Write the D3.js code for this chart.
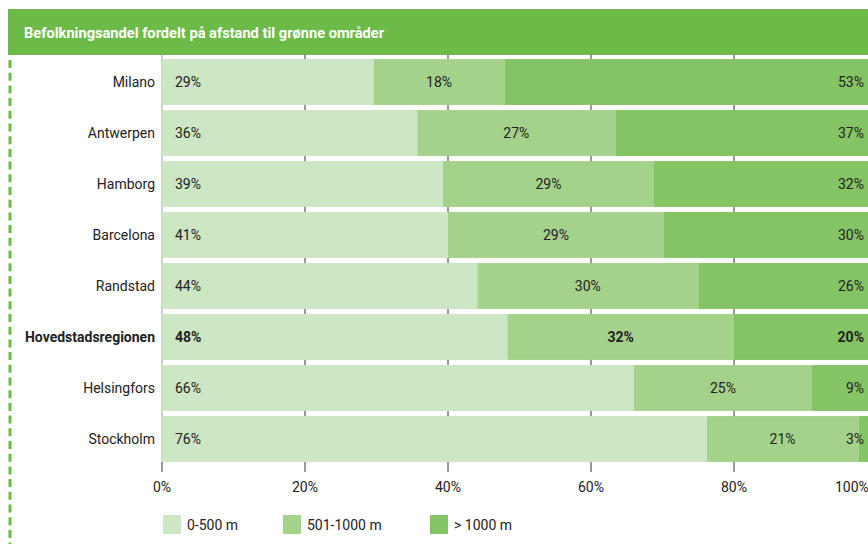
<!DOCTYPE html>
<html>
<head>
<meta charset="utf-8">
<script src="https://cdn.jsdelivr.net/npm/d3@7"></script>
<style>
  html, body { margin: 0; padding: 0; background: #fff; }
  svg { display: block; font-family: Roboto, "Open Sans", sans-serif; }
</style>
</head>
<body>
<svg id="chart" width="868" height="544"></svg>
<script>
// ---- data ----
const title = "Befolkningsandel fordelt på afstand til grønne områder";
const categories = ["Milano", "Antwerpen", "Hamborg", "Barcelona", "Randstad", "Hovedstadsregionen", "Helsingfors", "Stockholm"];
const highlight = "Hovedstadsregionen";
const seriesNames = ["0-500 m", "501-1000 m", "> 1000 m"];
const near = [29.6, 35.7, 39.3, 40.0, 44.1, 48.3, 66.0, 76.2];
const mid  = [18.3, 27.7, 29.5, 30.2, 30.9, 31.7, 24.9, 21.2];
const far  = [52.1, 36.6, 31.2, 29.8, 25.0, 20.0, 9.1, 2.6];
const nearLabels = ["29%", "36%", "39%", "41%", "44%", "48%", "66%", "76%"];
const midLabels  = ["18%", "27%", "29%", "29%", "30%", "32%", "25%", "21%"];
const farLabels  = ["53%", "37%", "32%", "30%", "26%", "20%", "9%", "3%"];
const tickValues = [0, 20, 40, 60, 80, 100];
const tickLabels = ["0%", "20%", "40%", "60%", "80%", "100%"];
const colors = ["#cde6c3", "#a4d28a", "#85c464"];
const accent = "#6cba48";

const svg = d3.select("#chart");

// title band
svg.append("rect").attr("x", 8).attr("y", 9).attr("width", 860).attr("height", 46).attr("fill", accent);
svg.append("text").attr("x", 24).attr("y", 37.5).attr("fill", "#fff")
  .attr("font-weight", "bold").attr("font-size", 14)
  .attr("textLength", 360).attr("lengthAdjust", "spacingAndGlyphs")
  .text(title);

// dashed left rule
svg.append("line").attr("x1", 10).attr("x2", 10).attr("y1", 60).attr("y2", 544)
  .attr("stroke", accent).attr("stroke-width", 3).attr("stroke-dasharray", "8,4.7");

// scales
const x = d3.scaleLinear().domain([0, 100]).range([162, 877]);
const y = d3.scaleBand().domain(categories).range([56.5, 464.5]).paddingInner(0.1).paddingOuter(0.05);

const rows = categories.map((c, i) => ({cat: c, vals: [near[i], mid[i], far[i]], labels: [nearLabels[i], midLabels[i], farLabels[i]]}));

const clip = svg.append("clipPath").attr("id", "clip").append("rect").attr("x", 0).attr("y", 0).attr("width", 868).attr("height", 544);
const g = svg.append("g").attr("clip-path", "url(#clip)");

// gridlines
const gridTop = 55, gridBottom = y(categories[categories.length - 1]) + y.bandwidth();
g.selectAll("line.grid").data(tickValues.slice(1)).join("line")
  .attr("x1", d => x(d)).attr("x2", d => x(d))
  .attr("y1", gridTop).attr("y2", gridBottom + 10)
  .attr("stroke", "#333").attr("stroke-width", 1);
g.append("line").attr("x1", x(0)).attr("x2", x(0)).attr("y1", gridTop).attr("y2", gridBottom)
  .attr("stroke", "#9a9a9a").attr("stroke-width", 1);
g.append("line").attr("x1", x(0)).attr("x2", x(0)).attr("y1", gridBottom).attr("y2", gridBottom + 10)
  .attr("stroke", "#333").attr("stroke-width", 1);

// bars
const rowG = g.selectAll("g.row").data(rows).join("g").attr("class", "row");
rowG.each(function(r) {
  const gg = d3.select(this);
  let acc = 0;
  const segs = r.vals.map((v, k) => { const s = {k, x0: acc, x1: acc + v, label: r.labels[k]}; acc += v; return s; });
  gg.selectAll("rect").data(segs).join("rect")
    .attr("x", s => x(s.x0)).attr("width", s => x(s.x1) - x(s.x0))
    .attr("y", y(r.cat)).attr("height", y.bandwidth())
    .attr("fill", s => colors[s.k]);
  const bold = r.cat === highlight;
  gg.selectAll("text").data(segs).join("text")
    .attr("x", s => s.k === 0 ? x(s.x0) + 13 : s.k === 1 ? (x(s.x0) + x(s.x1)) / 2 : 864)
    .attr("text-anchor", s => s.k === 0 ? "start" : s.k === 1 ? "middle" : "end")
    .attr("y", y(r.cat) + y.bandwidth() / 2).attr("dy", "0.36em")
    .attr("font-size", 14).attr("fill", "#222")
    .attr("font-weight", bold ? "bold" : "normal")
    .text(s => s.label);
});

// category labels
svg.selectAll("text.cat").data(categories).join("text").attr("class", "cat")
  .attr("x", 155).attr("y", d => y(d) + y.bandwidth() / 2).attr("dy", "0.36em")
  .attr("text-anchor", "end").attr("font-size", 14).attr("fill", "#222")
  .attr("font-weight", d => d === highlight ? "bold" : "normal")
  .text(d => d);

// x tick labels
svg.selectAll("text.tick").data(tickValues).join("text").attr("class", "tick")
  .attr("x", (d, i) => i === tickValues.length - 1 ? 835 : x(d))
  .attr("text-anchor", (d, i) => i === tickValues.length - 1 ? "start" : "middle")
  .attr("y", 492).attr("font-size", 14).attr("fill", "#222")
  .text((d, i) => tickLabels[i]);

// legend
const legendX = [163, 283, 430];
const lg = svg.selectAll("g.leg").data(seriesNames).join("g").attr("class", "leg")
  .attr("transform", (d, i) => `translate(${legendX[i]},515)`);
lg.append("rect").attr("width", 18).attr("height", 19).attr("fill", (d, i) => colors[i]);
lg.append("text").attr("x", 24).attr("y", 9.5).attr("dy", "0.36em")
  .attr("font-size", 14).attr("fill", "#222").text(d => d);
</script>
</body>
</html>
